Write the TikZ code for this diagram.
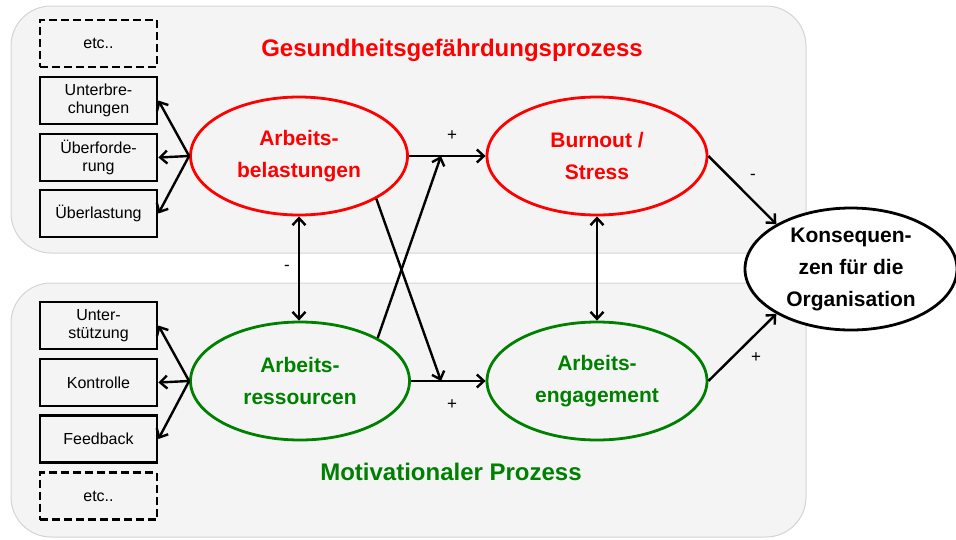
\documentclass[tikz,border=0pt]{standalone}
\usepackage{fontspec}
\setmainfont{Liberation Sans}
\usetikzlibrary{positioning,arrows.meta,shapes.geometric}
\definecolor{panelgray}{RGB}{244,244,244}
\definecolor{darkgreen}{RGB}{0,128,0}

\begin{document}
\begin{tikzpicture}[x=1pt,y=-1pt,
    panel/.style={draw=black!17,fill=panelgray,line width=1pt,rounded corners=40pt},
    facbox/.style={draw,line width=2.8pt,minimum width=117pt,minimum height=47pt,inner sep=0pt,align=center,font=\fontsize{16}{18}\selectfont},
    etcbox/.style={facbox,dash pattern=on 8pt off 4pt},
    ell/.style={ellipse,line width=2.8pt,minimum width=217pt,minimum height=118pt,inner sep=0pt,align=center,font=\fontsize{21}{32}\selectfont\bfseries},
    arr/.style={-{Straight Barb[length=7pt,width=13pt]},line width=2.4pt},
    darr/.style={{Straight Barb[length=7pt,width=13pt]}-{Straight Barb[length=7pt,width=13pt]},line width=2.4pt},
    sgn/.style={font=\fontsize{17}{18}\selectfont}]
      \useasboundingbox (0,0) rectangle (956,539);
      % panels
      \draw[panel] (11,6) rectangle (806,253);
      \draw[panel] (11,283) rectangle (806,537);
      \node[red,font=\fontsize{24}{28}\selectfont\bfseries] (titleA) at (452,50) {Gesundheitsgef\"ahrdungsprozess};
      \node[darkgreen,font=\fontsize{24}{28}\selectfont\bfseries] (titleB) at (451,472) {Motivationaler Prozess};
      % left boxes
      \node[etcbox] (etcA) at (98.5,43.5) {etc..};
      \node[facbox] (unterbr) at (98.5,100.5) {Unterbre-\\chungen};
      \node[facbox] (ueberf) at (98.5,157.5) {\"Uberforde-\\rung};
      \node[facbox] (ueberl) at (98.5,213.5) {\"Uberlastung};
      \node[facbox] (unterst) at (98.5,325.5) {Unter-\\st\"utzung};
      \node[facbox] (kontr) at (98.5,382.5) {Kontrolle};
      \node[facbox] (feedb) at (98.5,439) {Feedback};
      \node[etcbox] (etcB) at (98.5,496) {etc..};
      % ellipses
      \node[ell,draw=red,text=red] (belast) at (299,156) {Arbeits-\\belastungen};
      \node[ell,draw=red,text=red,minimum width=220pt] (burnout) at (597,156) {Burnout /\\Stress};
      \node[ell,draw=darkgreen,text=darkgreen,minimum width=219pt] (ressourc) at (300,381) {Arbeits-\\ressourcen};
      \node[ell,draw=darkgreen,text=darkgreen,minimum width=220pt] (engage) at (597,381) {Arbeits-\\engagement};
      \node[ell,draw=black,fill=white,minimum width=212pt,minimum height=122pt] (konseq) at (851,269) {Konsequen-\\zen f\"ur die\\Organisation};
      \coordinate (mA) at (441,156);
      \coordinate (mB) at (441,381);
      % connectors
      \foreach \b in {unterbr,ueberf,ueberl} \draw[arr] (belast.west) -- (\b.east);
      \foreach \b in {unterst,kontr,feedb} \draw[arr] (ressourc.west) -- (\b.east);
      \draw[arr] (belast.east) -- (burnout.west);
      \draw[arr] (ressourc.east) -- (engage.west);
      \draw[arr] (belast.-29) -- (mB);
      \draw[arr] (ressourc.29) -- (mA);
      \draw[darr] (belast.south) -- (ressourc.north -| belast.south);
      \draw[darr] (burnout.south) -- (engage.north);
      \draw[arr] (burnout.east) -- (konseq.149);
      \draw[arr] (engage.east) -- (konseq.211);
      \node[sgn] (pA) at (452,136) {+};
      \node[sgn] (pB) at (452,405) {+};
      \node[sgn] (mC) at (287,268) {-};
      \node[sgn] (mD) at (753,177) {-};
      \node[sgn] (pE) at (756,358) {+};
\end{tikzpicture}
\end{document}
